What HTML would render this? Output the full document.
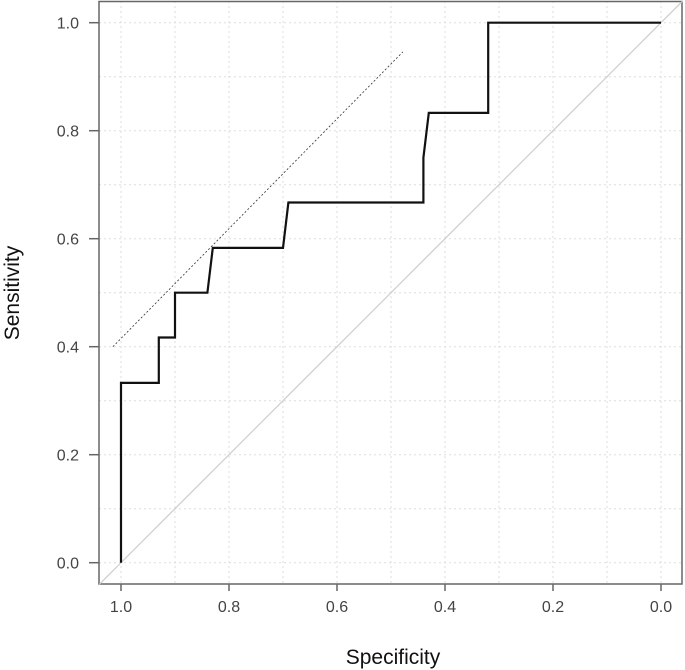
<!DOCTYPE html>
<html><head><meta charset="utf-8"><style>
body{margin:0;background:#fff;}
svg{display:block;font-family:"Liberation Sans","DejaVu Sans",sans-serif;}
</style></head><body>
<svg id="chart" width="685" height="670">
<g id="grid"></g>
<g id="axes"></g>
<g id="marks"></g>
<text x="393" y="664" text-anchor="middle" font-size="21" fill="#111">Specificity</text>
<text transform="translate(19,293) rotate(-90)" text-anchor="middle" font-size="21" fill="#111">Sensitivity</text>
</svg>
<script>
const ticks=[1.0,0.8,0.6,0.4,0.2,0.0];
const tickLabels=["1.0","0.8","0.6","0.4","0.2","0.0"];
const gridVals=[0,0.1,0.2,0.3,0.4,0.5,0.6,0.7,0.8,0.9,1.0];
const rocSpec=[1,1,0.93,0.93,0.90,0.90,0.84,0.83,0.70,0.69,0.44,0.44,0.43,0.32,0.32,0];
const rocSens=[0,0.333,0.333,0.417,0.417,0.5,0.5,0.583,0.583,0.667,0.667,0.75,0.833,0.833,1,1];
const refSpec=[1.015,0.478];
const refSens=[0.40,0.946];
const NS="http://www.w3.org/2000/svg";
const X=v=>121+(1-v)*540;
const Y=v=>562.7-v*540;
function mk(t,a,p){const e=document.createElementNS(NS,t);for(const k in a)e.setAttribute(k,a[k]);p.appendChild(e);return e;}
const g=document.getElementById('grid'),ax=document.getElementById('axes'),m=document.getElementById('marks');
gridVals.forEach(v=>{
 const a=mk('line',{x1:X(v),x2:X(v),y1:1,y2:584,stroke:'#ddd','stroke-dasharray':'2,3'},g);
 
 
 const b=mk('line',{x1:99,x2:682,y1:Y(v),y2:Y(v),stroke:'#ddd','stroke-dasharray':'2,3'},g);
 
 
});
const box=mk('rect',{x:99,y:1.5,width:583,height:582.5,fill:'none',stroke:'#666','stroke-width':1.5},ax);


ticks.forEach((v,i)=>{
 mk('line',{x1:X(v),x2:X(v),y1:584,y2:591,stroke:'#666','stroke-width':1.5},ax);
 const tx=mk('text',{x:X(v),y:612,'text-anchor':'middle','font-size':16,fill:'#444'},ax);
 tx.textContent=tickLabels[i];
 
 
 mk('line',{x1:89,x2:99,y1:Y(v),y2:Y(v),stroke:'#666','stroke-width':1.5},ax);
 const ty=mk('text',{x:79,y:Y(v)+6,'text-anchor':'end','font-size':16,fill:'#444'},ax);
 ty.textContent=tickLabels[i];
 
 
});
const diag=mk('line',{x1:X(1.04),y1:Y(-0.04),x2:X(-0.04),y2:Y(1.04),stroke:'#ccc','stroke-width':1.2},m);


const ref=mk('line',{x1:X(refSpec[0]),y1:Y(refSens[0]),x2:X(refSpec[1]),y2:Y(refSens[1]),stroke:'#333','stroke-width':0.8,'stroke-dasharray':'2,2'},m);


const pts=rocSpec.map((s,i)=>X(s)+','+Y(rocSens[i])).join(' ');
const roc=mk('polyline',{points:pts,fill:'none',stroke:'#111','stroke-width':2.2},m);


</script>
</body></html>
